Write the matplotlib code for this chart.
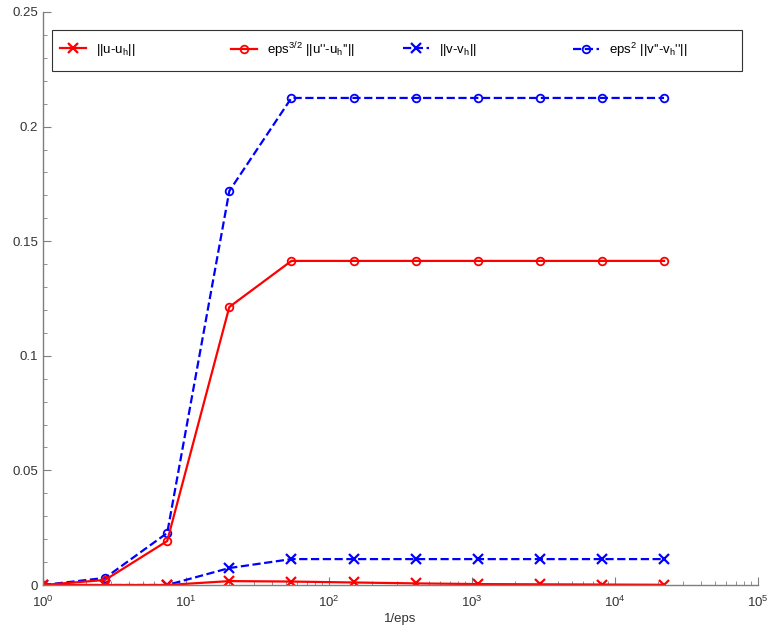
import numpy as np
import matplotlib
matplotlib.use("Agg")
import matplotlib.pyplot as plt
from matplotlib.patches import Rectangle
from matplotlib.ticker import MultipleLocator, FixedLocator, FixedFormatter

plt.rcParams["font.family"] = ["Liberation Sans", "DejaVu Sans"]
plt.rcParams["mathtext.default"] = "regular"

# 1/eps = e^0 ... e^10
inv_eps = [1.0, 2.718, 7.389, 20.09, 54.60, 148.4, 403.4, 1096.6, 2981.0, 8103.1, 22026.5]

err_u = [0.0, 0.0, 0.0, 0.0017, 0.0015, 0.0011, 0.0007, 0.0004, 0.0003, 0.0002, 0.0001]
err_u2 = [0.0, 0.0022, 0.0192, 0.1213, 0.1414, 0.1414, 0.1414, 0.1414, 0.1414, 0.1414, 0.1414]
err_v = [0.0, 0.0, 0.0, 0.0074, 0.0113, 0.0113, 0.0113, 0.0113, 0.0113, 0.0113, 0.0113]
err_v2 = [0.0, 0.0031, 0.0227, 0.1719, 0.2125, 0.2125, 0.2125, 0.2125, 0.2125, 0.2125, 0.2125]

labels = ["||u-u$_h$||",
          "eps$^{3/2}$ ||u''-u$_h$''||",
          "||v-v$_h$||",
          "eps$^2$ ||v''-v$_h$''||"]

W, H = 771, 633
fig = plt.figure(figsize=(W / 100, H / 100), dpi=100)
ax = fig.add_axes([43 / W, 48 / H, 715 / W, 573 / H])

l4, = ax.plot(inv_eps, err_v2, "--o", color="blue", lw=1.6, ms=5.5, mfc="none", mew=1.3)
l3, = ax.plot(inv_eps, err_v, "--x", color="blue", lw=1.6, ms=7, mew=1.6)
l2, = ax.plot(inv_eps, err_u2, "-o", color="red", lw=1.6, ms=5.5, mfc="none", mew=1.3)
l1, = ax.plot(inv_eps, err_u, "-x", color="red", lw=1.6, ms=7, mew=1.6)

ax.set_xscale("log")
ax.set_xlim(1, 1e5)
ax.set_ylim(0, 0.25)
ax.yaxis.set_major_locator(FixedLocator([0, 0.05, 0.1, 0.15, 0.2, 0.25]))
ax.yaxis.set_major_formatter(FixedFormatter(["0", "0.05", "0.1", "0.15", "0.2", "0.25"]))
ax.yaxis.set_minor_locator(MultipleLocator(0.01))

gray = "#7f7f7f"
for s in ["top", "right"]:
    ax.spines[s].set_visible(False)
for s in ["left", "bottom"]:
    ax.spines[s].set_color(gray)
    ax.spines[s].set_linewidth(1.0)
ax.tick_params(which="both", direction="in", colors=gray, labelcolor="#333333", labelsize=9.5)
ax.tick_params(which="major", length=6)
ax.tick_params(which="minor", length=3)
ax.tick_params(axis="x", pad=7)
ax.set_xlabel("1/eps", fontsize=9.5, color="#333333", labelpad=2)

# legend box with evenly spaced entries
fig.patches.append(Rectangle((52 / W, 1 - 71 / H), 690 / W, 41 / H, transform=fig.transFigure,
                             fill=False, edgecolor="#333333", lw=0.8))
for line, lab, xp in zip([l1, l2, l3, l4], labels, [60, 231, 403, 573]):
    lg = fig.legend([line], [lab], loc="center left", bbox_to_anchor=(xp / W, 1 - 50 / H),
                    frameon=False, fontsize=9.5, handlelength=2.0, handletextpad=0.7,
                    borderpad=0, borderaxespad=0)

fig.savefig("out.png", dpi=100)
